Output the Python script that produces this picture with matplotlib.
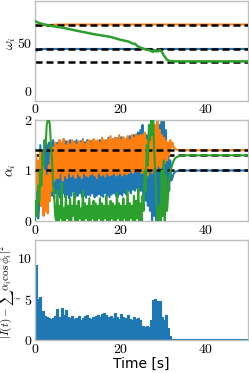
#!/usr/bin/env python3

import matplotlib
matplotlib.use("Agg")
import matplotlib.pyplot as plt
import numpy as np

plt.rcParams["mathtext.fontset"] = "cm"
plt.rcParams["font.family"] = "serif"
plt.rcParams["font.serif"] = ["cmr10"]
plt.rcParams["axes.formatter.use_mathtext"] = True
plt.rcParams["font.size"] = 10

# --- panel 1: frequency estimates omega_i ---
true_omega = [43, 68, 30]

t_om_blue = [0, 0.5, 1, 1.5, 2, 3, 27.5, 28.3, 29, 29.5, 50]
om_blue = [39.8, 41.5, 42.3, 42.8, 43, 43, 43, 40.5, 41, 43, 43]

t_om_orange = [0, 1, 2, 3, 4, 6, 50]
om_orange = [66.5, 66.8, 67.2, 67.5, 67.8, 68, 68]

t_om_green = [0, 1, 2.3, 4, 6.6, 10, 14, 17.6, 20, 22, 23, 23.5, 24, 25, 26,
              27, 27.7, 28.2, 28.8, 29.3, 29.8, 30.3, 31, 31.7, 33, 50]
om_green = [71.5, 69.5, 68, 66.5, 64.7, 61.5, 58, 55.5, 52.5, 50.5, 48.5, 48.3,
            46, 44, 42.5, 41.5, 40, 41.8, 40.5, 42, 40, 36, 32, 30.5, 30.3, 30.3]

# --- panel 2: amplitude estimates alpha_i (sampled every 0.25 s up to 33 s) ---
true_alpha = [1.0, 1.4, 1.3]
t_alpha_tail = [33.5, 34, 35, 50]

al_blue = [
    1.0, 0.1, 0.6, 0.05, 0.3,
    1.5, 0.3, 1.4, 0.2, 1.6, 0.5, 1.5, 0.3, 1.55, 0.4, 1.45, 0.5, 1.6, 0.45, 1.5, 0.55,
    1.55, 0.5, 1.6, 0.45, 1.5, 0.55, 1.62, 0.48, 1.58, 0.52, 1.55, 0.45, 1.6, 0.5, 1.52, 0.58,
    1.57, 0.47, 1.6, 0.5, 1.55, 0.55, 1.58, 0.48, 1.62, 0.5, 1.56, 0.46, 1.6, 0.52, 1.54, 0.5,
    1.58, 0.55, 1.6, 0.47, 1.55, 0.5, 1.57, 0.53, 1.6, 0.5, 1.63, 0.48, 1.58, 0.55, 1.6, 0.5,
    1.65, 0.47, 1.6, 0.52, 1.62, 0.55, 1.58, 0.5, 1.64, 0.48, 1.6, 0.53, 1.66, 0.5, 1.62, 0.56,
    1.6, 0.52, 1.65, 0.6, 1.68, 0.55, 1.62, 0.62, 1.7, 0.6, 1.65, 0.65, 1.75, 0.58, 1.8, 0.6,
    1.9, 0.5, 1.6, 0.4, 1.7, 0.3, 1.5, 0.2, 1.8, 0.0, 1.95, 0.1, 1.7, 0.0, 1.6, 0.2,
    1.9, 0.0, 2.0, 0.1, 2.0, 0.0, 1.8, 0.3, 1.5, 0.6, 1.2, 0.8,
    0.85, 0.92, 0.96, 0.98,
    0.99, 1.0, 1.0, 1.0]

al_orange = [
    1.0, 1.3, 0.6, 1.2, 0.7,
    1.4, 0.3, 1.2, 0.1, 1.0, 0.2, 0.9, 0.15, 1.1, 0.4, 1.5, 0.6, 1.45, 0.8, 1.55, 0.85,
    1.5, 0.85, 1.6, 0.95, 1.55, 0.8, 1.62, 0.9, 1.5, 0.85, 1.58, 0.95, 1.52, 0.88, 1.6, 0.92,
    1.55, 0.85, 1.5, 0.95, 1.58, 0.9, 1.55, 0.85, 1.6, 0.95, 1.52, 0.9, 1.57, 0.88, 1.6, 0.92,
    1.55, 0.95, 1.62, 0.9, 1.58, 0.85, 1.6, 0.95, 1.55, 0.9, 1.65, 0.92, 1.6, 0.88, 1.58, 0.95,
    1.62, 0.9, 1.68, 0.92, 1.6, 0.95, 1.65, 0.9, 1.62, 0.92, 1.7, 0.95, 1.6, 0.9, 1.66, 0.95,
    1.62, 0.92, 1.68, 0.95, 1.6, 1.0, 1.7, 0.95, 1.65, 1.0, 1.72, 0.98, 1.68, 1.0, 1.7, 0.95,
    1.7, 0.95, 1.75, 1.0, 1.6, 0.9, 1.7, 1.0, 1.8, 0.95, 1.75, 1.05, 1.9, 1.0, 2.0, 1.1,
    1.8, 1.05, 1.7, 1.1, 1.65, 1.15, 1.6, 1.2, 1.55, 1.3, 1.6, 1.45,
    1.55, 1.48, 1.44, 1.42,
    1.41, 1.4, 1.4, 1.4]

al_green = [
    0.0, 0.4, 0.1, 0.7, 0.4,
    1.0, 0.7, 1.3, 1.1, 1.6, 1.5, 1.9, 2.0, 2.0, 1.9, 1.5, 1.2, 0.7, 0.5, 0.1, 0.0,
    0.6, 0.0, 0.3, 0.05, 0.75, 0.0, 0.25, 0.0, 0.5, 0.05, 0.3, 0.0, 0.45, 0.0, 0.3, 0.1,
    0.55, 0.0, 0.3, 0.0, 0.4, 0.05, 0.25, 0.0, 0.6, 0.0, 0.35, 0.05, 0.3, 0.0, 0.45, 0.0,
    0.3, 0.05, 0.4, 0.0, 0.35, 0.0, 0.3, 0.05, 0.45, 0.0, 0.35, 0.0, 0.3, 0.05, 0.5, 0.0,
    0.3, 0.0, 0.4, 0.05, 0.35, 0.0, 0.3, 0.0, 0.55, 0.05, 0.35, 0.0, 0.3, 0.0, 0.45, 0.05,
    0.3, 0.0, 0.6, 0.0, 0.35, 0.05, 0.3, 0.0, 0.5, 0.0, 0.4, 0.05, 0.65, 0.0, 0.35, 0.0,
    0.5, 0.2, 1.0, 0.6, 1.5, 1.1, 1.9, 1.6, 2.0, 1.7, 2.0, 1.4, 1.0, 0.4, 0.0, 0.0,
    0.3, 0.0, 1.0, 0.1, 1.2, 0.0, 0.9, 0.2, 0.5, 0.8, 0.95, 1.05,
    1.12, 1.18, 1.22, 1.25,
    1.27, 1.29, 1.3, 1.3]

# --- panel 3: squared residual (every 0.5 s) ---
err_vals = [9.2, 5.0, 5.3, 3.5, 2.9, 2.8, 2.7, 2.6, 2.7, 2.9, 3.8, 2.8, 3.9, 3.0, 3.7,
            2.8, 2.7, 2.9, 2.6, 2.7, 2.9, 2.5, 2.7, 2.9, 3.0, 2.7, 2.6, 2.8, 2.9, 3.1,
            2.8, 3.2, 3.3, 3.0, 2.8, 2.9, 2.7, 3.3, 2.8, 2.6, 3.2, 2.8, 2.7, 3.0, 2.6,
            2.5, 2.8, 2.6, 2.7, 2.4, 1.7, 1.6, 1.7, 1.6, 2.4, 4.9, 5.0, 4.8, 4.7, 2.8,
            2.5, 3.0, 1.5, 0.5, 0.15, 0.1]
err_tail_t = [50]
err_tail = [0.1]

t_alpha = list(np.arange(0, 33.01, 0.25)) + t_alpha_tail
t_err = list(np.arange(0, len(err_vals)) * 0.5) + err_tail_t
err = err_vals + err_tail

colors = ["#1f77b4", "#ff7f0e", "#2ca02c"]

fig = plt.figure(figsize=(2.49, 3.73), dpi=100)
ax1 = fig.add_axes([0.1406, 0.730, 0.855, 0.267])
ax2 = fig.add_axes([0.1406, 0.4075, 0.855, 0.271])
ax3 = fig.add_axes([0.1406, 0.0885, 0.855, 0.268])

dash_kw = dict(color="k", linestyle="--", linewidth=1.8, dashes=(2.8, 1.6))

# omega
ax1.axhline(true_omega[2], zorder=1, **dash_kw)
ax1.plot(t_om_blue, om_blue, color=colors[0], lw=1.5, zorder=2)
ax1.plot(t_om_orange, om_orange, color=colors[1], lw=1.5, zorder=2)
ax1.axhline(true_omega[0], zorder=3, **dash_kw)
ax1.axhline(true_omega[1], zorder=3, **dash_kw)
ax1.plot(t_om_green, om_green, color=colors[2], lw=1.8, zorder=4)
ax1.set_ylim(-10, 92)
ax1.set_yticks([0, 50])
ax1.set_ylabel(r"$\omega_i$")
ax1.yaxis.set_label_coords(-0.082, 0.58)

# alpha
ax2.axhline(true_alpha[2], zorder=1, **dash_kw)
ax2.plot(t_alpha, al_blue, color=colors[0], lw=1.5, zorder=2)
ax2.plot(t_alpha, al_orange, color=colors[1], lw=1.5, zorder=2)
ax2.axhline(true_alpha[0], zorder=3, **dash_kw)
ax2.axhline(true_alpha[1], zorder=3, **dash_kw)
ax2.plot(t_alpha, al_green, color=colors[2], lw=1.5, zorder=4)
ax2.set_ylim(0, 2)
ax2.set_yticks([0, 1, 2])
ax2.set_ylabel(r"$\alpha_i$")
ax2.yaxis.set_label_coords(-0.08, 0.5)

# residual
ax3.fill_between(t_err, err, step="post", color=colors[0], lw=0)
ax3.plot(t_err, err, drawstyle="steps-post", color=colors[0], lw=0.8)
ax3.set_ylim(0, 12.2)
ax3.set_yticks([0, 5, 10])
fig.text(9.5 / 249, 1 - 292 / 373, r"$|I(t)-\sum_i\alpha_i\cos\phi_i|^2$",
         rotation=90, ha="center", va="center", fontsize=8)
ax3.set_xlabel("Time [s]", family="DejaVu Sans", labelpad=1)

for ax in (ax1, ax2, ax3):
    ax.set_xlim(0, 50)
    ax.set_xticks([0, 20, 40])
    ax.tick_params(length=0, pad=2)
    for s in ax.spines.values():
        s.set_color("0.75")
        s.set_linewidth(1.0)

plt.savefig("out.png", dpi=100)
plt.close()
